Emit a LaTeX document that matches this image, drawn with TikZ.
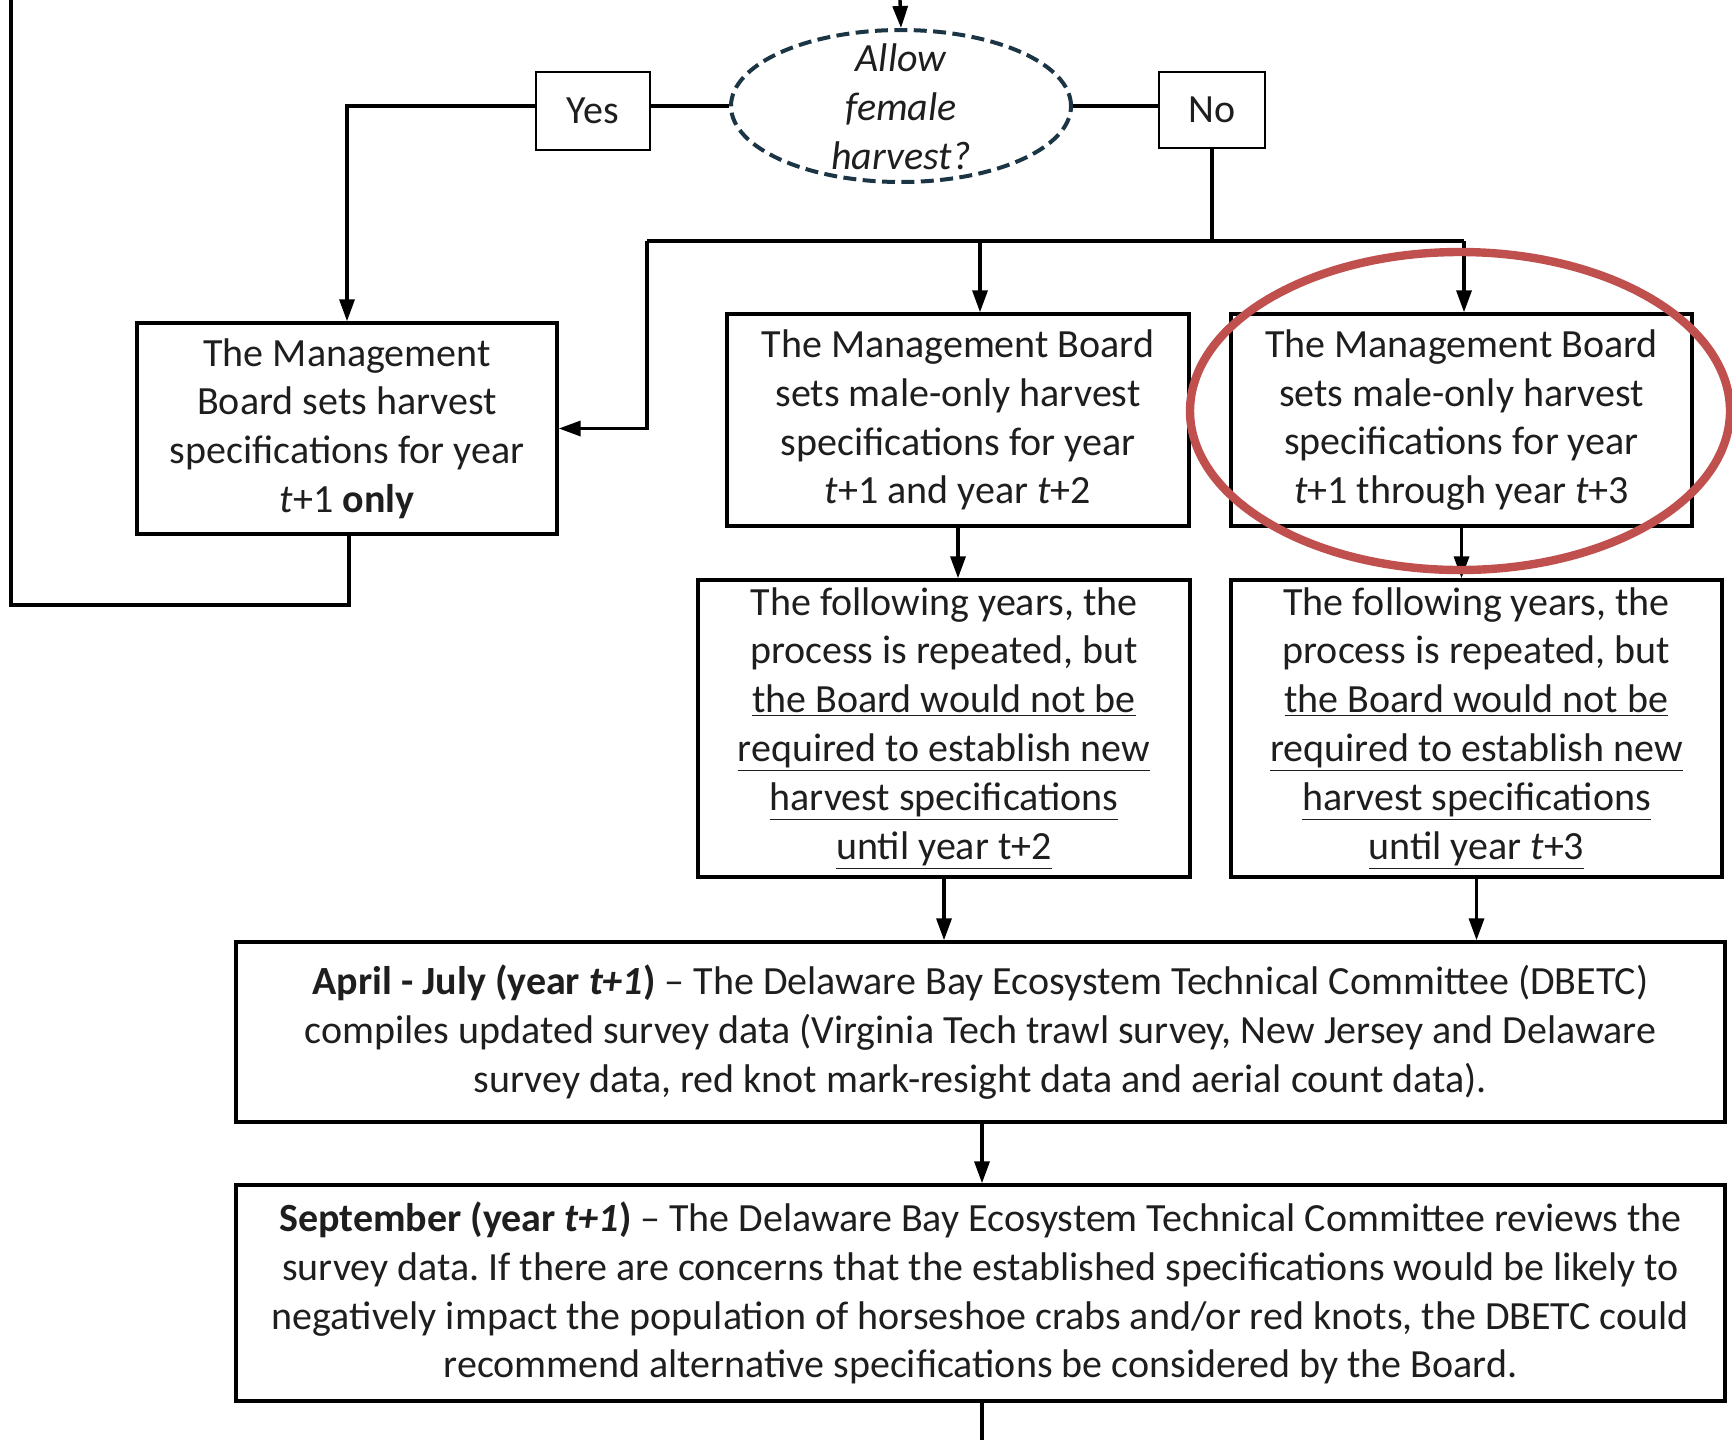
\documentclass[tikz,border=0pt]{standalone}
\usepackage{fontspec}
\setmainfont{Carlito}
\usetikzlibrary{shapes.geometric,arrows.meta}
\definecolor{txt}{HTML}{1E1E1E}
\definecolor{navy}{HTML}{1B3545}
\definecolor{redring}{HTML}{C0504D}
\newcommand\myul[1]{\underline{#1}}
\frenchspacing
\begin{document}
\begin{tikzpicture}[x=0.5pt,y=-0.5pt,
  every node/.style={text=txt,font=\fontsize{20}{24.4}\selectfont},
  box/.style={draw=black,line width=1.7pt,inner sep=0pt,align=center},
  lab/.style={draw=black,line width=1.1pt,inner sep=0pt,align=center},
  conn/.style={line width=1.7pt,draw=black},
  arr/.style={conn,-{Triangle[length=11pt,width=7.5pt]}}]
\useasboundingbox (0,0) rectangle (1732,1440);
\coordinate (top) at (900,0);
\node[ellipse,draw=navy,line width=2pt,dash pattern=on 6.5pt off 3.2pt,minimum width=170pt,minimum height=76pt,inner sep=0pt] (q) at (901,106) {};
\node[align=center,font=\itshape\fontsize{20}{24.4}\selectfont] (qt) at (901,107) {Allow\\female\\harvest?};
\node[lab,minimum width=57pt,minimum height=39pt] (yes) at (593,111) {Yes};
\node[lab,minimum width=53pt,minimum height=38pt] (no) at (1212,110) {No};
\node[box,minimum width=210pt,minimum height=105.5pt] (L1) at (347,428.5) {The Management\\Board sets harvest\\specifications for year\\\textit{t}+1 \textbf{only}};
\node[box,minimum width=231pt,minimum height=106pt] (M1) at (958,420) {The Management Board\\sets male-only harvest\\specifications for year\\\textit{t}+1 and year \textit{t}+2};
\node[box,minimum width=230.5pt,minimum height=106pt] (R1) at (1461.5,420) {The Management Board\\sets male-only harvest\\specifications for year\\\textit{t}+1 through year \textit{t}+3};
\node[box,minimum width=246pt,minimum height=148.5pt] (M2) at (944,728.5) {The following years, the\\process is repeated, but\\\myul{the Board would not be}\\\myul{required to establish new}\\\myul{harvest specifications}\\\myul{until year t+2}};
\node[box,minimum width=245.5pt,minimum height=148.5pt] (R2) at (1476.5,728.5) {The following years, the\\process is repeated, but\\\myul{the Board would not be}\\\myul{required to establish new}\\\myul{harvest specifications}\\\myul{until year \textit{t}+3}};
\node[box,minimum width=744.5pt,minimum height=90pt] (A) at (980.5,1032) {\textbf{April - July (year \textit{t+1})} -- The Delaware Bay Ecosystem Technical Committee (DBETC)\\compiles updated survey data (Virginia Tech trawl survey, New Jersey and Delaware\\survey data, red knot mark-resight data and aerial count data).};
\node[box,minimum width=744.5pt,minimum height=108pt] (S) at (980.5,1293) {\textbf{September (year \textit{t+1})} -- The Delaware Bay Ecosystem Technical Committee reviews the\\survey data. If there are concerns that the established specifications would be likely to\\negatively impact the population of horseshoe crabs and/or red knots, the DBETC could\\recommend alternative specifications be considered by the Board.};
\coordinate (bL) at (647,241);
\coordinate (bM) at (980,241);
\coordinate (bR) at (1464,241);
\coordinate (yl) at (347,106);
\coordinate (lb) at (349,605);
\coordinate (lc) at (11,605);
\coordinate (lt) at (11,0);
\coordinate (bot) at (982,1440);
\draw[arr] (top) -- (q.north);
\draw[conn] (q.west) -- (q.west -| yes.east);
\draw[arr] (q.west -| yes.west) -- (yl) -- (yl |- L1.north);
\draw[conn] (q.east) -- (q.east -| no.west);
\draw[conn] (no.south) -- (no.south |- bL);
\draw[conn] (bL) -- (bR);
\draw[arr] (bL) |- (L1.east);
\draw[arr] (bM) -- (bM |- M1.north);
\draw[arr] (bR) -- (bR |- R1.north);
\draw[arr] (M1.south) -- (M1.south |- M2.north);
\draw[arr] (R1.south) -- (R1.south |- R2.north);
\draw[arr] (M2.south) -- (M2.south |- A.north);
\draw[arr] (R2.south) -- (R2.south |- A.north);
\draw[arr] (A.south -| bot) -- (bot |- S.north);
\draw[conn] (S.south -| bot) -- (bot);
\draw[conn] (lb |- L1.south) -- (lb) -- (lc) -- (lt);
\draw[redring,line width=4.2pt] (1460,411) ellipse [x radius=270,y radius=159];
\end{tikzpicture}
\end{document}
